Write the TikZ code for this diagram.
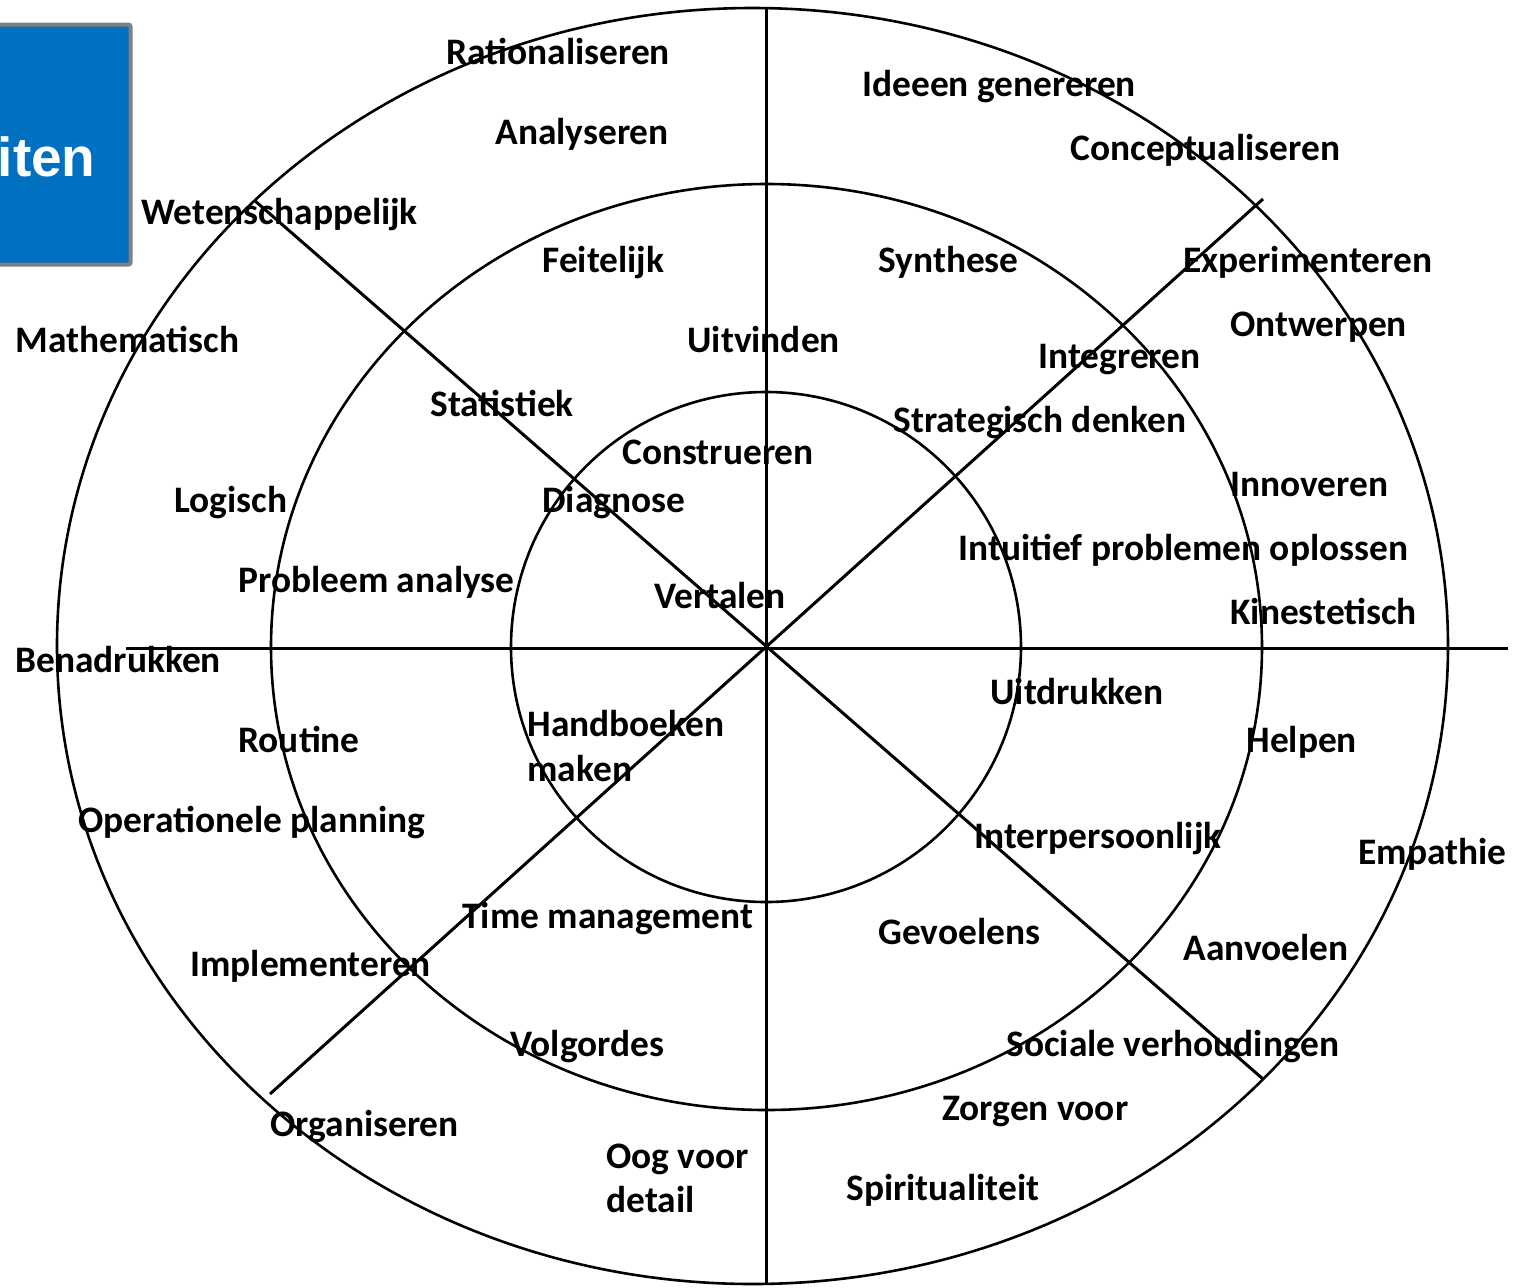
\documentclass[tikz,border=0pt]{standalone}
\usepackage{fontspec}
\setmainfont{Carlito}
\newfontfamily\boxfont{Liberation Sans}
\definecolor{boxblue}{RGB}{0,112,192}
\definecolor{boxgray}{RGB}{128,128,128}
\begin{document}
\begin{tikzpicture}[x=0.5pt,y=-0.5pt,
  lbl/.style={anchor=base west,inner sep=0pt,font=\fontsize{18.7}{22}\selectfont\bfseries},
  ring/.style={line width=1.3pt},
  axis/.style={line width=1.5pt}]
\useasboundingbox (0,0) rectangle (1528,1287);
% title box (cut off at the left edge)
\begin{scope}
  \clip (0,24.5) rectangle (130.5,264.5);
  \fill[boxblue] (-10,24.5) rectangle (130.5,264.5);
  \node[anchor=base east,inner sep=0pt,text=white,font=\boxfont\bfseries\fontsize{27.5}{30}\selectfont] (boxtext) at (96,176) {eiten};
\end{scope}
\draw[boxgray,line width=2pt,rounded corners=1pt] (-10,24.5) rectangle (130.5,264.5);
% rings
\draw[ring] (752.5,646) ellipse [x radius=695.5, y radius=638];
\draw[ring] (766.5,647) ellipse [x radius=495.5, y radius=463];
\draw[ring] (766,647) ellipse [x radius=255, y radius=255];
% axes
\coordinate (hL) at (126,648);
\coordinate (hR) at (1508,648);
\coordinate (vT) at (766,9);
\coordinate (vB) at (766,1285);
\coordinate (d1a) at (254,200);
\coordinate (d1b) at (1263,1079);
\coordinate (d2a) at (1263,199);
\coordinate (d2b) at (270,1094);
\draw[axis] (hL) -- (hR);
\draw[axis] (vT) -- (vB);
\draw[axis] (d1a) -- (d1b);
\draw[axis] (d2a) -- (d2b);
% labels
\node[lbl] (l1) at (446,64) {Rationaliseren};
\node[lbl] (l2) at (495,144) {Analyseren};
\node[lbl] (l3) at (862,96) {Ideeen genereren};
\node[lbl] (l4) at (1070,160) {Conceptualiseren};
\node[lbl] (l5) at (141,224) {Wetenschappelijk};
\node[lbl] (l6) at (542,272) {Feitelijk};
\node[lbl] (l7) at (878,272) {Synthese};
\node[lbl] (l8) at (1183,272) {Experimenteren};
\node[lbl] (l9) at (1230,336) {Ontwerpen};
\node[lbl] (l10) at (15,352) {Mathematisch};
\node[lbl] (l11) at (687,352) {Uitvinden};
\node[lbl] (l12) at (1038,368) {Integreren};
\node[lbl] (l13) at (430,416) {Statistiek};
\node[lbl] (l14) at (893,432) {Strategisch denken};
\node[lbl] (l15) at (622,464) {Construeren};
\node[lbl] (l16) at (174,512) {Logisch};
\node[lbl] (l17) at (542,512) {Diagnose};
\node[lbl] (l18) at (1230,496) {Innoveren};
\node[lbl] (l19) at (958,560) {Intuitief problemen oplossen};
\node[lbl] (l20) at (238,592) {Probleem analyse};
\node[lbl] (l21) at (654,608) {Vertalen};
\node[lbl] (l22) at (1230,624) {Kinestetisch};
\node[lbl] (l23) at (15,672) {Benadrukken};
\node[lbl] (l24) at (990,704) {Uitdrukken};
\node[lbl] (l25) at (238,752) {Routine};
\node[lbl] (l26) at (1246,752) {Helpen};
\node[lbl] (l27a) at (527,736) {Handboeken};
\node[lbl] (l27b) at (527,781) {maken};
\node[lbl] (l28) at (78,832) {Operationele planning};
\node[lbl] (l29) at (974,848) {Interpersoonlijk};
\node[lbl] (l30) at (1358,864) {Empathie};
\node[lbl] (l31) at (462,928) {Time management};
\node[lbl] (l32) at (878,944) {Gevoelens};
\node[lbl] (l33) at (1183,960) {Aanvoelen};
\node[lbl] (l34) at (190,976) {Implementeren};
\node[lbl] (l35) at (510,1056) {Volgordes};
\node[lbl] (l36) at (1006,1056) {Sociale verhoudingen};
\node[lbl] (l37) at (942,1120) {Zorgen voor};
\node[lbl] (l38) at (270,1136) {Organiseren};
\node[lbl] (l39a) at (606,1168) {Oog voor};
\node[lbl] (l39b) at (606,1212) {detail};
\node[lbl] (l40) at (846,1200) {Spiritualiteit};
\end{tikzpicture}
\end{document}
